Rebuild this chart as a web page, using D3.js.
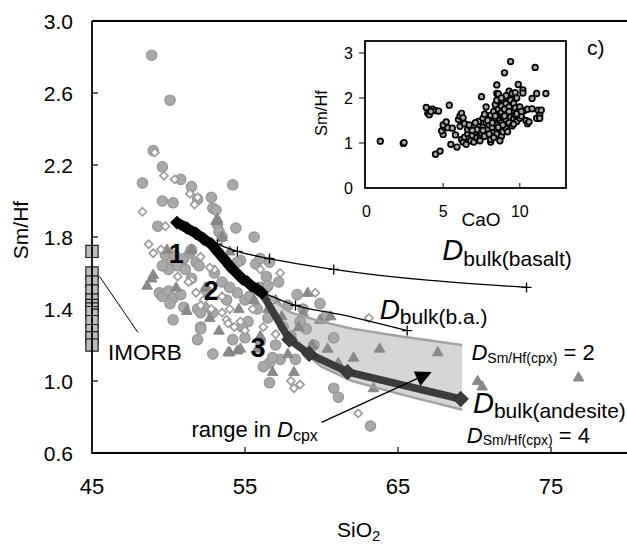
<!DOCTYPE html>
<html><head><meta charset="utf-8">
<script src="https://cdn.jsdelivr.net/npm/d3@7"></script>
<style>body{margin:0;background:#fff}svg{display:block;font-family:"Liberation Sans",Arial,sans-serif}</style>
</head><body><svg id="c" width="627" height="544"></svg>
<script>
// ---------- data ----------
const xTicks = [45, 55, 65, 75];
const yTicks = [0.6, 1.0, 1.4, 1.8, 2.2, 2.6, 3.0];
const circles = [[48.9,2.81],[50.1,2.56],[49.0,2.28],[49.6,2.19],[48.3,2.10],[50.8,2.12],[51.5,2.08],[54.2,2.09],[49.6,2.00],[50.3,1.99],[51.9,2.01],[52.8,2.02],[52.9,1.96],[53.1,1.95],[54.4,1.85],[55.6,1.80],[49.3,1.86],[53.2,1.87],[53.3,1.83],[53.5,1.80],
[49.8,1.70],[50.2,1.66],[50.6,1.64],[51.0,1.68],[51.4,1.71],[50.0,1.62],[51.1,1.62],[51.8,1.66],[49.6,1.64],[50.4,1.70],[51.5,1.73],[52.0,1.64],
[56.6,1.66],[55.7,1.65],[54.7,1.67],[54.5,1.66],[56.0,1.68],[56.4,1.58],[56.4,1.52],[58.4,1.48],
[49.4,1.49],[49.6,1.47],[50.0,1.50],[50.3,1.46],[50.8,1.48],[51.0,1.41],[50.1,1.43],[50.3,1.34],[52.1,1.30],[52.3,1.41],[52.9,1.38],[54.5,1.49],[55.0,1.45],[55.3,1.47],[51.9,1.40],[52.1,1.38],[52.1,1.29],[51.9,1.23],[52.9,1.15],[56.6,0.99],[56.6,1.10],[57.3,1.12],[54.2,1.23],[55.0,1.24],[60.8,0.96],[61.1,0.91],[60.8,1.24],[59.0,1.29],[58.6,1.33],[56.0,1.52],[56.5,1.53],[56.2,1.08],[56.8,1.13],[58.3,1.12],[63.2,0.75],[53.5,1.55],[54.0,1.52],[55.8,1.40],[56.5,1.35],[57.5,1.30],[53.0,1.60],[57.8,1.42],[55.2,1.33],[54.8,1.30],[56.0,1.22],[57.0,1.20],[58.0,1.25],[59.5,1.20],[53.8,1.45],[52.5,1.50],[51.5,1.57],[58.8,1.40],[57.2,1.55],[59.9,1.43],[60.3,1.36]];
const diamonds = [[49.1,2.27],[49.7,2.14],[50.4,2.12],[51.4,2.04],[51.7,1.98],[51.9,2.02],[48.3,1.94],[49.8,1.86],[48.7,1.76],[49.0,1.71],[52.1,1.69],[53.0,1.62],[57.3,1.60],[52.7,1.63],[56.0,1.62],[53.8,1.34],[51.5,1.56],[51.8,1.49],[52.1,1.42],[53.5,1.47],[53.5,1.38],[51.3,1.55],[52.3,1.45],[52.8,1.40],[53.9,1.32],[54.3,1.30],[54.7,1.33],[54.0,1.40],[58.0,1.00],[58.6,0.98],[58.2,0.96],[59.6,1.49],[63.1,1.35],[62.4,0.82],[55.5,1.40],[56.2,1.30],[57.0,1.26],[49.5,1.73],[50.6,1.58],[55.0,1.28],[56.8,1.45]];
const triangles = [[49.0,1.59],[49.9,1.73],[53.1,1.89],[53.2,1.90],[51.5,1.73],[48.6,1.53],[48.9,1.57],[51.2,1.39],[52.7,1.35],[54.0,1.16],[54.5,1.17],[53.9,1.16],[54.7,1.18],[59.1,1.49],[59.9,1.34],[60.6,1.36],[60.4,1.18],[62.1,1.13],[61.1,1.10],[63.4,0.96],[63.8,1.18],[58.8,1.38],[59.4,1.20],[67.6,1.16],[70.2,1.00],[70.5,0.97],[76.8,1.02],[53.5,1.80],[54.0,1.72],[55.6,1.45],[56.5,1.40],[57.4,1.36],[57.8,1.15],[58.2,1.05],[55.2,1.55],[54.6,1.40],[56.0,1.25],[57.0,1.45],[52.4,1.52],[50.5,1.52],[53.3,1.28],[55.8,1.18],[58.5,1.30],[56.8,1.05]];
const imorbSiO2 = 45;
const imorbSmHf = [1.72,1.60,1.55,1.50,1.45,1.42,1.40,1.38,1.33,1.28,1.24,1.20];
const basaltLine = [[52.7,1.78],[53.2,1.76],[54.5,1.72],[56.6,1.68],[60.8,1.62],[73.4,1.52]];
const basaltCross = [[53.2,1.76],[54.5,1.72],[56.6,1.68],[60.8,1.62],[73.4,1.52]];
const baLine = [[56.2,1.49],[58.3,1.42],[61.2,1.37],[65.6,1.28]];
const baCross = [[58.3,1.42],[65.6,1.28]];
const pathSegA = [[50.55,1.88],[51.2,1.85],[51.8,1.82],[52.3,1.79],[52.8,1.76],[53.2,1.72],[53.6,1.68],[54.0,1.64],[54.2,1.62]];
const pathSegB = [[54.45,1.60],[54.8,1.57],[55.15,1.55]];
const pathSegC = [[55.4,1.53],[55.8,1.51],[56.1,1.49]];
const andesiteLine = [[56.1,1.49],[57.9,1.23],[59.2,1.15],[61.7,1.05],[69.1,0.90]];
const cpx2Line = [[56.3,1.48],[58.0,1.38],[60.0,1.33],[62.0,1.29],[65.0,1.25],[69.2,1.20]];
const cpx4Line = [[56.3,1.46],[58.0,1.22],[60.0,1.08],[62.0,1.00],[65.0,0.93],[69.2,0.84]];
const arrowPts = [[60.0,0.77],[67.2,1.05]];
const imorbLeader = [[45.5,1.58],[48.0,1.27]];
// inset
const insetXTicks = [0, 5, 10];
const insetYTicks = [0, 1, 2, 3];
const inset = [[0.9,1.04],[2.4,0.99],[2.45,1.01],[4.5,0.75],[4.8,0.82],
[3.9,1.79],[4.0,1.66],[4.1,1.63],[4.3,1.75],[4.5,1.72],[4.7,1.71],[4.2,1.70],
[5.4,1.84],[5.5,0.97],[5.0,1.19],[4.9,1.27],[5.1,1.35],[5.3,1.34],[5.0,1.40],[5.2,1.47],[5.6,1.33],
[5.9,0.91],[5.8,1.18],[6.0,1.52],[6.1,1.60],[6.2,1.66],[6.3,1.56],[6.1,1.37],[6.4,1.43],
[6.2,1.08],[6.3,1.02],[6.5,0.97],[6.4,1.13],[6.6,1.20],[6.7,1.10],[6.8,1.05],[6.9,1.17],[6.6,1.30],[6.8,1.35],[7.0,1.38],[7.0,1.02],[7.2,1.12],[7.1,1.25],[7.3,1.40],[7.3,1.48],[7.4,1.10],[7.5,1.22],[7.6,1.35],[7.6,1.55],[7.5,2.03],[7.7,1.64],[7.8,1.80],[7.8,1.45],[7.9,1.30],[7.9,1.18],[8.0,1.40],[8.0,1.52],[8.1,1.62],[8.1,1.02],[8.1,1.08],[8.2,1.25],[8.2,1.35],[8.3,1.48],[8.3,1.70],[8.4,1.55],[8.4,1.85],[8.5,2.10],[8.5,2.29],[8.5,1.20],[8.5,1.40],[8.6,1.62],[8.6,1.75],[8.6,2.09],[8.7,1.30],[8.7,1.50],[8.7,1.90],[8.8,1.15],[8.8,1.45],[8.8,1.68],[8.8,1.82],[8.9,1.25],[8.9,1.58],[8.9,1.95],[9.0,1.40],[9.0,1.75],[9.0,2.56],[9.1,1.52],[9.1,1.88],[9.1,1.32],[9.2,1.65],[9.2,2.00],[9.3,1.45],[9.3,1.80],[9.3,2.15],[9.4,1.58],[9.4,2.81],[9.4,1.95],[9.5,1.70],[9.5,2.10],[9.5,1.38],[9.6,1.88],[9.6,1.55],[9.7,1.62],[9.7,1.78],[9.8,2.00],[9.8,1.48],[9.9,1.70],[9.9,2.30],[10.0,1.55],[10.0,1.80],[10.1,1.60],[10.2,2.18],[10.2,2.11],[10.3,1.72],[10.4,1.50],[10.5,1.43],[10.6,1.47],[10.5,1.75],[10.8,1.99],[10.8,1.76],[11.0,2.68],[11.1,2.10],[11.1,1.55],[11.2,1.73],[11.3,1.62],[11.3,1.55],[11.4,1.73],[11.7,2.10],
[7.2,1.30],[7.4,1.05],[7.7,1.15],[8.0,1.20],[8.3,1.12],[8.6,1.35],[8.9,1.40],[9.2,1.25],[9.0,1.60],[8.4,1.60],[8.2,1.45],[7.9,1.50],[7.6,1.28],[7.1,1.45],[6.9,1.28],[6.7,1.40],[8.7,1.05],[9.6,1.42],[9.8,1.65],[10.1,1.70],[9.3,1.70],[8.5,1.95],[9.7,2.12],[9.1,2.05],[8.8,2.00]];

// ---------- scales ----------
const svg = d3.select("#c");
const x = d3.scaleLinear().domain([45, 80]).range([92, 627.5]);
const y = d3.scaleLinear().domain([0.6, 3.0]).range([453, 21]);
const ix = d3.scaleLinear().domain([0, 13]).range([366.5, 565.8]);
const iy = d3.scaleLinear().domain([0, 3.267]).range([188, 41]);
const line = d3.line().x(d => x(d[0])).y(d => y(d[1]));

const g = svg.append("g");

// shaded cpx range
const band = cpx2Line.concat(cpx4Line.slice().reverse());
g.append("path").attr("d", line(band) + "Z").attr("fill", "#d6d6d6").attr("stroke", "none");

// scatter: circles
g.selectAll("circle.gc").data(circles).join("circle").attr("class","gc")
  .attr("cx", d => x(d[0])).attr("cy", d => y(d[1])).attr("r", 5.2)
  .attr("fill", "#a9a9a9").attr("stroke", "#959595").attr("stroke-width", 1.2);
// triangles
const tri = d3.symbol().type(d3.symbolTriangle).size(50);
g.selectAll("path.tr").data(triangles).join("path").attr("class","tr")
  .attr("d", tri).attr("transform", d => `translate(${x(d[0])},${y(d[1])+0.5})`)
  .attr("fill", "#8a8a8a").attr("stroke", "#7d7d7d").attr("stroke-width", 0.8);
// open diamonds
const dia = d3.symbol().type(d3.symbolDiamond2).size(42);
g.selectAll("path.dm").data(diamonds).join("path").attr("class","dm")
  .attr("d", dia).attr("transform", d => `translate(${x(d[0])},${y(d[1])})`)
  .attr("fill", "#fff").attr("stroke", "#9a9a9a").attr("stroke-width", 1.6);

// cpx boundary lines
[cpx2Line, cpx4Line].forEach(l => g.append("path").attr("d", line(l))
  .attr("fill", "none").attr("stroke", "#a3a3a3").attr("stroke-width", 2.5));

// D bulk basalt & b.a. lines
const curve = d3.line().curve(d3.curveMonotoneX).x(d => x(d[0])).y(d => y(d[1]));
[basaltLine, baLine].forEach(l => g.append("path").attr("d", curve(l))
  .attr("fill", "none").attr("stroke", "#000").attr("stroke-width", 1.3));
basaltCross.concat(baCross).forEach(d => {
  const cx = x(d[0]), cy = y(d[1]);
  g.append("path").attr("d", `M${cx-5},${cy}H${cx+5}M${cx},${cy-5}V${cy+5}`)
    .attr("stroke", "#000").attr("stroke-width", 1.3);
});

// andesite dark line
g.append("path").attr("d", line(andesiteLine)).attr("fill", "none")
  .attr("stroke", "#3c3c3c").attr("stroke-width", 7.5);
const bigDia = d3.symbol().type(d3.symbolDiamond2).size(150);
g.selectAll("path.ad").data(andesiteLine.slice(1)).join("path").attr("class","ad")
  .attr("d", bigDia).attr("transform", d => `translate(${x(d[0])},${y(d[1])})`)
  .attr("fill", "#3c3c3c").attr("stroke", "#222").attr("stroke-width", 0.8);

// black thick segments
[pathSegA, pathSegB, pathSegC].forEach(seg => {
  g.append("path").attr("d", line(seg)).attr("fill", "none")
    .attr("stroke", "#000").attr("stroke-width", 10).attr("stroke-linejoin","round");
  g.selectAll(null).data(seg).join("path")
    .attr("d", d3.symbol().type(d3.symbolDiamond2).size(120))
    .attr("transform", d => `translate(${x(d[0])},${y(d[1])})`).attr("fill", "#000");
});

// IMORB squares
const sq = d3.symbol().type(d3.symbolSquare).size(150);
g.selectAll("path.im").data(imorbSmHf).join("path").attr("class","im")
  .attr("d", sq).attr("transform", d => `translate(${x(imorbSiO2)},${y(d)})`)
  .attr("fill", "#bdbdbd").attr("stroke", "#222").attr("stroke-width", 1.2);
g.append("path").attr("d", line(imorbLeader)).attr("stroke", "#000").attr("stroke-width", 1);

// arrow
const a0 = arrowPts[0], a1 = arrowPts[1];
const X0 = x(a0[0]), Y0 = y(a0[1]), X1 = x(a1[0]), Y1 = y(a1[1]);
const ang = Math.atan2(Y1 - Y0, X1 - X0);
const hl = 16, hw = 8;
const bx = X1 - hl * Math.cos(ang), by = Y1 - hl * Math.sin(ang);
g.append("line").attr("x1", X0).attr("y1", Y0).attr("x2", bx).attr("y2", by)
  .attr("stroke", "#000").attr("stroke-width", 1.3);
g.append("path").attr("d", `M${X1},${Y1}L${bx + hw*Math.sin(ang)},${by - hw*Math.cos(ang)}L${bx - hw*Math.sin(ang)},${by + hw*Math.cos(ang)}Z`)
  .attr("fill", "#000");

// axes
const ax = svg.append("g").attr("stroke", "#000").attr("fill", "none");
ax.append("path").attr("d", `M92,${y(3.0)}H627M92,${y(3.0)}V${y(0.6)}H627`).attr("stroke-width", 1.8);
yTicks.filter(t => t > 0.6 && t < 3.0).forEach(t =>
  ax.append("line").attr("x1", 92).attr("x2", 98).attr("y1", y(t)).attr("y2", y(t)).attr("stroke-width", 1.2));
xTicks.filter(t => t > 45).forEach(t =>
  ax.append("line").attr("x1", x(t)).attr("x2", x(t)).attr("y1", 453).attr("y2", 447).attr("stroke-width", 1.2));
svg.selectAll("text.yl").data(yTicks).join("text").attr("class","yl")
  .attr("x", 73).attr("y", d => y(d) + 7.5).attr("text-anchor", "end")
  .attr("font-size", 21).text(d => d.toFixed(1));
svg.selectAll("text.xl").data(xTicks).join("text").attr("class","xl")
  .attr("x", d => x(d)).attr("y", 494).attr("text-anchor", "middle")
  .attr("font-size", 22).text(d => d);
svg.append("text").attr("transform", "translate(28,230) rotate(-90)")
  .attr("text-anchor", "middle").attr("font-size", 21).text("Sm/Hf");
const sio = svg.append("text").attr("x", 337).attr("y", 537).attr("font-size", 21);
sio.append("tspan").text("SiO");
sio.append("tspan").attr("font-size", 15).attr("dy", 4).text("2");

// labels
function dlabel(xv, yv, big, sub, subSize, dy, tail) {
  const t = svg.append("text").attr("x", x(xv)).attr("y", y(yv)).attr("font-size", big);
  t.append("tspan").attr("font-style", "italic").text("D");
  t.append("tspan").attr("font-size", subSize).attr("dy", dy).text(sub);
  if (tail) t.append("tspan").attr("dy", -dy).text(tail);
}
dlabel(67.9, 1.672, 29, "bulk(basalt)", 21, 6);
dlabel(63.8, 1.344, 28, "bulk(b.a.)", 21, 5);
dlabel(69.8, 1.117, 22, "Sm/Hf(cpx)", 14, 3, " = 2");
dlabel(69.9, 0.822, 29, "bulk(andesite)", 21, 5);
dlabel(69.5, 0.655, 22, "Sm/Hf(cpx)", 14, 2, " = 4");
const rg = svg.append("text").attr("x", x(51.5)).attr("y", y(0.689)).attr("font-size", 22);
rg.append("tspan").text("range in ");
rg.append("tspan").attr("font-style", "italic").text("D");
rg.append("tspan").attr("font-size", 16).attr("dy", 4).text("cpx");
svg.append("text").attr("x", x(46.05)).attr("y", y(1.117)).attr("font-size", 22.5).text("IMORB");
[["1",50.5,1.656],["2",52.8,1.45],["3",55.85,1.133]].forEach(d =>
  svg.append("text").attr("x", x(d[1])).attr("y", y(d[2])).attr("text-anchor","middle")
    .attr("font-size", 27).attr("font-weight", "bold").text(d[0]));

// ---------- inset ----------
const ins = svg.append("g");
ins.append("rect").attr("x", 365).attr("y", 41).attr("width", 201).attr("height", 147)
  .attr("fill", "#fff").attr("stroke", "#000").attr("stroke-width", 1.8);
ins.selectAll("circle").data(inset).join("circle")
  .attr("cx", d => ix(d[0])).attr("cy", d => iy(d[1])).attr("r", 2.8)
  .attr("fill", "#a8a8a8").attr("stroke", "#000").attr("stroke-width", 1.7);
insetYTicks.filter(t => t > 0).forEach(t =>
  ins.append("line").attr("x1", 359).attr("x2", 365).attr("y1", iy(t)).attr("y2", iy(t)).attr("stroke", "#000"));
insetXTicks.filter(t => t > 0).forEach(t =>
  ins.append("line").attr("x1", ix(t)).attr("x2", ix(t)).attr("y1", 188).attr("y2", 183).attr("stroke", "#000"));
ins.selectAll("text.iy").data(insetYTicks).join("text").attr("class","iy")
  .attr("x", 353).attr("y", d => iy(d) + 5.5).attr("text-anchor", "end").attr("font-size", 16).text(d => d);
ins.selectAll("text.ix").data(insetXTicks).join("text").attr("class","ix")
  .attr("x", d => ix(d)).attr("y", 217).attr("text-anchor", "middle").attr("font-size", 16).text(d => d);
ins.append("text").attr("x", 481).attr("y", 226).attr("text-anchor", "middle").attr("font-size", 19).text("CaO");
ins.append("text").attr("transform", "translate(327,113) rotate(-90)").attr("text-anchor", "middle")
  .attr("font-size", 16.5).text("Sm/Hf");
ins.append("text").attr("x", 587).attr("y", 55).attr("font-size", 21).text("c)");
</script></body></html>
